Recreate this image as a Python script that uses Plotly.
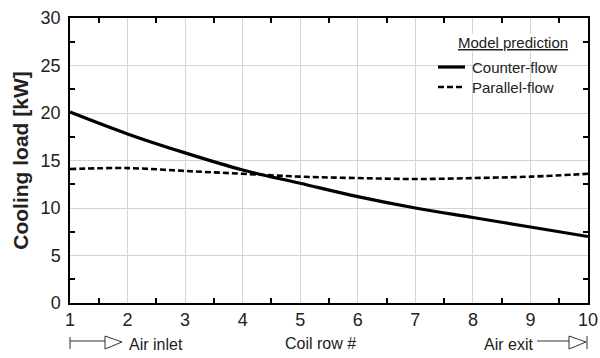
import plotly.graph_objects as go

rows = [1, 2, 3, 4, 5, 6, 7, 8, 9, 10]
counter_flow = [20.1, 17.8, 15.8, 14.0, 12.6, 11.2, 10.0, 9.0, 8.0, 7.0]
parallel_flow = [14.1, 14.2, 13.9, 13.6, 13.3, 13.15, 13.05, 13.15, 13.3, 13.6]
series_names = ["Counter-flow", "Parallel-flow"]
legend_title = "Model prediction"

FONT = "Liberation Sans, Arial, sans-serif"
DASH = "6px,3px"
ML, MR, MT, MB = 70, 12, 18, 55
W, H = 600, 358

fig = go.Figure()
fig.add_trace(go.Scatter(x=rows, y=counter_flow, mode="lines", name=series_names[0],
                         line=dict(color="black", width=3.2, shape="spline")))
fig.add_trace(go.Scatter(x=rows, y=parallel_flow, mode="lines", name=series_names[1],
                         line=dict(color="black", width=2.6, dash=DASH, shape="spline")))
# invisible trace to carry the mirrored (top/right) tick axes
fig.add_trace(go.Scatter(x=[rows[0]], y=[0], xaxis="x2", yaxis="y2", mode="markers",
                         marker=dict(opacity=0), showlegend=False, hoverinfo="skip"))

axis_common = dict(showline=True, linecolor="black", linewidth=1.5, mirror=True,
                   showgrid=True, gridcolor="#d4d4d4", gridwidth=1, zeroline=False,
                   ticks="inside", ticklen=0, tickcolor="black", automargin=False,
                   tickfont=dict(size=18, color="#222", family=FONT))

fig.update_xaxes(range=[1, 10], tickmode="linear", tick0=1, dtick=1,
                 minor=dict(tickmode="linear", dtick=0.5, tick0=1, ticks="inside", ticklen=5,
                            tickcolor="black", tickwidth=1.5, showgrid=False),
                 **axis_common)
fig.update_yaxes(range=[0, 30], tickmode="linear", tick0=0, dtick=5, ticklabelstandoff=4,
                 minor=dict(tickmode="linear", dtick=2.5, tick0=0, ticks="inside", ticklen=5,
                            tickcolor="black", tickwidth=1.5, showgrid=False),
                 title=dict(text="<b>Cooling load [kW]</b>", font=dict(size=21, color="#222", family=FONT), standoff=6),
                 **axis_common)

mirror_common = dict(showgrid=False, zeroline=False, showticklabels=False, showline=False,
                     ticks="inside", ticklen=0, automargin=False)
fig.update_layout(
    xaxis2=dict(overlaying="x", side="top", range=[1, 10], tickmode="linear", tick0=1, dtick=1,
                minor=dict(tickmode="linear", dtick=0.5, tick0=1, ticks="inside", ticklen=5,
                           tickcolor="black", tickwidth=1.5, showgrid=False),
                **mirror_common),
    yaxis2=dict(overlaying="y", side="right", range=[0, 30], tickmode="linear", tick0=0, dtick=5,
                minor=dict(tickmode="linear", dtick=2.5, tick0=0, ticks="inside", ticklen=5,
                           tickcolor="black", tickwidth=1.5, showgrid=False),
                **mirror_common),
)

fig.update_layout(
    width=W, height=H,
    margin=dict(l=ML, r=MR, t=MT, b=MB),
    paper_bgcolor="white", plot_bgcolor="white",
    showlegend=False,
    font=dict(family=FONT),
)

PW = W - ML - MR
PH = H - MT - MB
def px(xp):
    return (xp - ML) / PW
def py(yp):
    return (H - MB - yp) / PH

# ---- hand-made legend (title + two rows) ----
leg_font = dict(size=15, color="#222", family=FONT)
fig.add_annotation(text=f"<span style='text-decoration:underline'>{legend_title}</span>",
                   xref="paper", yref="paper", x=px(513), y=py(42), showarrow=False,
                   xanchor="center", yanchor="middle",
                   font=leg_font, bgcolor="white", borderpad=0)
row_y = [67, 87]
row_styles = [dict(color="black", width=3.2), dict(color="black", width=2.6, dash=DASH)]
for name, yy, st in zip(series_names, row_y, row_styles):
    fig.add_shape(type="rect", xref="paper", yref="paper", x0=px(437), x1=px(559),
                  y0=py(yy + 9), y1=py(yy - 9), line=dict(width=0), fillcolor="white", layer="below")
    fig.add_shape(type="line", xref="paper", yref="paper", x0=px(438), x1=px(465),
                  y0=py(yy), y1=py(yy), line=st)
    fig.add_annotation(text=name, xref="paper", yref="paper", x=px(471), y=py(yy),
                       showarrow=False, font=leg_font, xanchor="left", yanchor="middle", borderpad=0)

# ---- bottom captions and flow-direction arrows ----
ann_font = dict(size=16, color="#222", family=FONT)
fig.add_annotation(text="Coil row #", xref="paper", yref="paper", x=px(320), y=py(343),
                   showarrow=False, font=ann_font, xanchor="center", yanchor="middle")
fig.add_annotation(text="Air inlet", xref="paper", yref="paper", x=px(127), y=py(344),
                   showarrow=False, font=ann_font, xanchor="left", yanchor="middle")
fig.add_annotation(text="Air exit", xref="paper", yref="paper", x=px(535), y=py(344),
                   showarrow=False, font=ann_font, xanchor="right", yanchor="middle")

lc = dict(color="#333", width=1)
fig.add_shape(type="line", xref="paper", yref="paper", x0=px(70), x1=px(70), y0=py(337), y1=py(349), line=lc)
fig.add_shape(type="line", xref="paper", yref="paper", x0=px(70), x1=px(105), y0=py(341), y1=py(341), line=lc)
fig.add_shape(type="path", xref="paper", yref="paper",
              path=f"M {px(105)} {py(336)} L {px(122)} {py(342)} L {px(105)} {py(349)} Z",
              line=lc, fillcolor="white")
fig.add_shape(type="line", xref="paper", yref="paper", x0=px(537), x1=px(569), y0=py(341), y1=py(341), line=lc)
fig.add_shape(type="path", xref="paper", yref="paper",
              path=f"M {px(569)} {py(336)} L {px(586)} {py(342)} L {px(569)} {py(349)} Z",
              line=lc, fillcolor="white")
fig.add_shape(type="line", xref="paper", yref="paper", x0=px(587), x1=px(587), y0=py(336), y1=py(349), line=lc)

fig.write_html("out.html")
